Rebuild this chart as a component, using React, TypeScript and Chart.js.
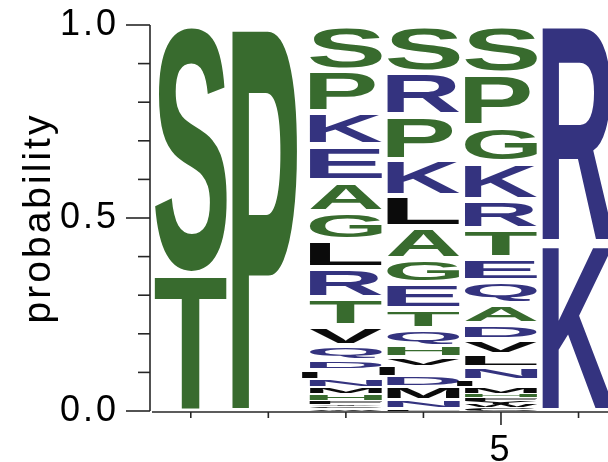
import React, { useEffect, useRef } from 'react';
import { Chart, registerables } from 'chart.js';

Chart.register(...registerables);

// ---- data (letters listed top to bottom for each position) ----
const positions = [1, 2, 3, 4, 5, 6];

const pos1Letters = ['S', 'T'];
const pos1Probs = [0.645, 0.355];

const pos2Letters = ['P'];
const pos2Probs = [1.0];

const pos3Letters = ['S', 'P', 'K', 'E', 'A', 'G', 'L', 'R', 'T', 'V', 'Q', 'D', 'I', 'N', 'M', 'H', 'F', 'Y', 'C', 'W'];
const pos3Probs = [0.119, 0.108, 0.086, 0.093, 0.08, 0.074, 0.071, 0.079, 0.071, 0.052, 0.035, 0.025, 0.025, 0.021, 0.019, 0.017, 0.008, 0.006, 0.006, 0.006];

const pos4Letters = ['S', 'R', 'P', 'K', 'L', 'A', 'G', 'E', 'T', 'Q', 'H', 'V', 'I', 'D', 'M', 'N', 'F'];
const pos4Probs = [0.122, 0.111, 0.115, 0.095, 0.08, 0.082, 0.062, 0.067, 0.053, 0.044, 0.027, 0.025, 0.027, 0.026, 0.036, 0.021, 0.006];

const pos5Letters = ['S', 'P', 'G', 'K', 'R', 'T', 'E', 'Q', 'A', 'D', 'V', 'L', 'N', 'I', 'M', 'H', 'F', 'Y', 'W', 'C'];
const pos5Probs = [0.126, 0.136, 0.095, 0.096, 0.075, 0.075, 0.06, 0.06, 0.052, 0.039, 0.039, 0.034, 0.032, 0.019, 0.019, 0.009, 0.009, 0.009, 0.008, 0.008];

const pos6Letters = ['R', 'K'];
const pos6Probs = [0.566, 0.434];

const yTickValues = [0, 0.5, 1];
const yMinorTickValues = [0.1, 0.2, 0.3, 0.4, 0.6, 0.7, 0.8, 0.9];
const xLabelledTicks = [5];

const yAxisTitle = 'probability';

const GREEN = '#386b2e';
const BLUE = '#34337f';
const BLACK = '#0b0b0b';

function colorOf(ch: string): string {
  if ('SGHTAP'.includes(ch)) return GREEN;
  if ('RKDENQ'.includes(ch)) return BLUE;
  return BLACK;
}

const columns = [
  { x: positions[0], letters: pos1Letters, probs: pos1Probs },
  { x: positions[1], letters: pos2Letters, probs: pos2Probs },
  { x: positions[2], letters: pos3Letters, probs: pos3Probs },
  { x: positions[3], letters: pos4Letters, probs: pos4Probs },
  { x: positions[4], letters: pos5Letters, probs: pos5Probs },
  { x: positions[5], letters: pos6Letters, probs: pos6Probs },
];

function buildDatasets() {
  const maxLevels = Math.max(...columns.map((c) => c.letters.length));
  const datasets: any[] = [];
  for (let k = 0; k < maxLevels; k++) {
    const data = columns
      .filter((c) => c.letters.length > k)
      .map((c) => {
        const idx = c.letters.length - 1 - k;
        return { x: c.x, y: c.probs[idx], ch: c.letters[idx] };
      });
    datasets.push({
      data,
      backgroundColor: 'rgba(0,0,0,0)',
      borderWidth: 0,
      barPercentage: 1,
      categoryPercentage: 0.93,
    });
  }
  return datasets;
}

// narrow glyphs are not stretched to the full column width
const glyphWidthFactor: Record<string, number> = { P: 0.9 };

function drawGlyph(ctx: CanvasRenderingContext2D, ch: string, x: number, y: number, w: number, h: number, color: string) {
  if (h <= 0.2 || w <= 0) return;
  ctx.save();
  ctx.font = 'bold 200px "Liberation Sans", Arial, sans-serif';
  ctx.textAlign = 'left';
  ctx.textBaseline = 'alphabetic';
  const m = ctx.measureText(ch);
  const L = m.actualBoundingBoxLeft;
  const R = m.actualBoundingBoxRight;
  const A = m.actualBoundingBoxAscent;
  const D = m.actualBoundingBoxDescent;
  const iw = L + R;
  const ih = A + D;
  let gx = x;
  let gw = w * (glyphWidthFactor[ch] ?? 1);
  if (ch === 'I') {
    gw = w * 0.22;
    gx = x - gw / 2;
  }
  ctx.translate(gx, y);
  ctx.scale(gw / iw, h / ih);
  ctx.fillStyle = color;
  ctx.fillText(ch, L, A);
  ctx.restore();
}

const logoPlugin = {
  id: 'logoGlyphs',
  beforeDraw(chart: any) {
    chart.ctx.letterSpacing = '3px';
  },
  afterDatasetsDraw(chart: any) {
    const ctx: CanvasRenderingContext2D = chart.ctx;
    const area = chart.chartArea;
    ctx.save();
    (ctx as any).letterSpacing = '0px';
    ctx.beginPath();
    ctx.rect(area.left - 20, area.top - 5, area.right - area.left + 20, area.bottom - area.top + 10);
    ctx.clip();
    chart.data.datasets.forEach((ds: any, di: number) => {
      const meta = chart.getDatasetMeta(di);
      meta.data.forEach((el: any, i: number) => {
        const pt = ds.data[i];
        const p = el.getProps(['x', 'y', 'base', 'width'], true);
        const top = Math.min(p.y, p.base);
        const bottom = Math.max(p.y, p.base);
        const h = bottom - top;
        const g = Math.min(6, h * 0.3);
        drawGlyph(ctx, pt.ch, p.x - p.width / 2, top + g / 2, p.width, h - g, colorOf(pt.ch));
      });
    });
    ctx.restore();
  },
  afterDraw(chart: any) {
    const ctx: CanvasRenderingContext2D = chart.ctx;
    const area = chart.chartArea;
    const ys = chart.scales.y;
    const xs = chart.scales.x;
    ctx.save();
    ctx.strokeStyle = '#262626';
    ctx.lineWidth = 1.6;
    // y axis (offset left of the plot area)
    const ax = area.left - 2;
    ctx.beginPath();
    ctx.moveTo(ax, ys.getPixelForValue(0));
    ctx.lineTo(ax, ys.getPixelForValue(1));
    ctx.stroke();
    yTickValues.forEach((v) => {
      const py = ys.getPixelForValue(v);
      ctx.beginPath();
      ctx.moveTo(ax - 24, py);
      ctx.lineTo(ax, py);
      ctx.stroke();
    });
    yMinorTickValues.forEach((v) => {
      const py = ys.getPixelForValue(v);
      ctx.beginPath();
      ctx.moveTo(ax - 12, py);
      ctx.lineTo(ax, py);
      ctx.stroke();
    });
    // x axis
    const ay = area.bottom + 1;
    ctx.beginPath();
    ctx.moveTo(area.left, ay);
    ctx.lineTo(area.right, ay);
    ctx.stroke();
    positions.forEach((v) => {
      const px = xs.getPixelForValue(v);
      const len = xLabelledTicks.includes(v) ? 13 : 6;
      ctx.beginPath();
      ctx.moveTo(px, ay);
      ctx.lineTo(px, ay + len);
      ctx.stroke();
    });
    ctx.restore();
  },
};

export default function App() {
  const canvasRef = useRef<HTMLCanvasElement | null>(null);

  useEffect(() => {
    const canvas = canvasRef.current;
    if (!canvas) return;
    const font = { family: '"Liberation Sans", Arial, sans-serif', size: 36 };
    const chart = new Chart(canvas, {
      type: 'bar',
      data: { datasets: buildDatasets() },
      options: {
        responsive: false,
        animation: false,
        devicePixelRatio: 1,
        layout: { padding: { top: 25, left: 0, right: 0, bottom: 0 } },
        plugins: {
          legend: { display: false },
          tooltip: { enabled: false },
        },
        scales: {
          x: {
            type: 'linear',
            stacked: true,
            min: 0.5,
            max: 6.38,
            offset: false,
            grid: { display: false, drawTicks: false },
            border: { display: false },
            afterBuildTicks: (s: any) => {
              s.ticks = positions.map((v) => ({ value: v }));
            },
            ticks: {
              autoSkip: false,
              maxRotation: 0,
              color: '#000',
              font,
              padding: 18,
              callback: (v: any) => (xLabelledTicks.includes(Number(v)) ? String(v) : ''),
            },
            afterFit: (s: any) => {
              s.height = 51;
              s.paddingLeft = 0;
              s.paddingRight = 0;
            },
          },
          y: {
            stacked: true,
            min: 0,
            max: 1,
            grid: { display: false, drawTicks: false },
            border: { display: false },
            afterBuildTicks: (s: any) => {
              s.ticks = yTickValues.map((v) => ({ value: v }));
            },
            ticks: {
              color: '#000',
              font,
              padding: 33,
              callback: (v: any) => Number(v).toFixed(1),
            },
            title: {
              display: true,
              text: yAxisTitle,
              color: '#000',
              font: { family: '"Liberation Sans", Arial, sans-serif', size: 39 },
              padding: { top: 16, bottom: 0 },
            },
            afterFit: (s: any) => {
              s.width = 152;
              s.paddingTop = 0;
              s.paddingBottom = 0;
            },
          },
        },
      } as any,
      plugins: [logoPlugin],
    });
    return () => chart.destroy();
  }, []);

  return (
    <div style={{ position: 'absolute', left: 0, top: 0, width: 608, height: 462, overflow: 'hidden', background: '#fff' }}>
      <canvas ref={canvasRef} width={608} height={462} style={{ display: 'block' }} />
    </div>
  );
}
